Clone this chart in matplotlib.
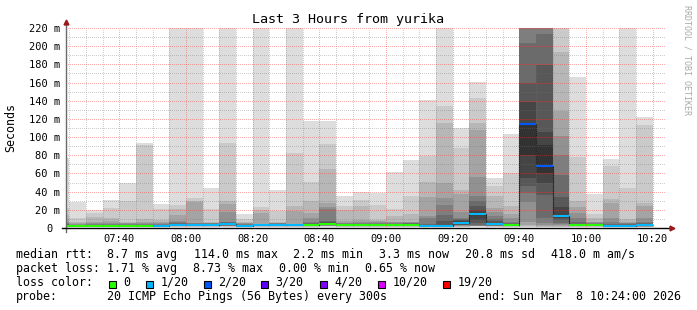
import matplotlib
matplotlib.use("Agg")
import matplotlib.pyplot as plt
from matplotlib.patches import Rectangle
import numpy as np

W, H = 697, 310

# one smokeping step every 5 minutes, start of each step
bar_times = ["07:20", "07:25", "07:30", "07:35", "07:40", "07:45", "07:50", "07:55",
             "08:00", "08:05", "08:10", "08:15", "08:20", "08:25", "08:30", "08:35",
             "08:40", "08:45", "08:50", "08:55", "09:00", "09:05", "09:10", "09:15",
             "09:20", "09:25", "09:30", "09:35", "09:40", "09:45", "09:50", "09:55",
             "10:00", "10:05", "10:10", "10:15"]

# 20 sorted ping rtts per step (ms)
pings = [
    [1.0, 1.2, 1.4, 1.6, 1.8, 2.0, 2.1, 2.2, 2.4, 2.5, 2.7, 3.0, 3.4, 4.0, 5.0, 7.0, 10.0, 14.0, 22.0, 77.0],
    [1.0, 1.2, 1.4, 1.6, 1.8, 2.0, 2.1, 2.2, 2.3, 2.4, 2.6, 2.8, 3.0, 3.3, 3.8, 4.5, 5.5, 6.6, 10.6, 29.0],
    [1.0, 1.2, 1.4, 1.6, 1.8, 2.0, 2.1, 2.2, 2.3, 2.4, 2.6, 2.8, 3.0, 3.4, 4.0, 5.0, 7.0, 11.7, 16.0, 20.0],
    [1.0, 1.2, 1.4, 1.6, 1.8, 2.0, 2.1, 2.2, 2.3, 2.4, 2.6, 2.8, 3.0, 3.4, 4.0, 5.5, 7.8, 11.0, 22.4, 30.8],
    [1.0, 1.2, 1.4, 1.6, 1.8, 2.0, 2.1, 2.2, 2.3, 2.4, 2.6, 2.8, 3.0, 3.4, 4.0, 5.0, 6.0, 7.0, 30.0, 49.0],
    [1.0, 1.2, 1.4, 1.6, 1.8, 2.0, 2.1, 2.2, 2.3, 2.4, 2.6, 2.8, 3.0, 3.4, 4.0, 5.0, 7.0, 10.0, 91.0, 94.0],
    [1.0, 1.2, 1.4, 1.6, 1.8, 2.0, 2.1, 2.2, 2.3, 2.4, 2.6, 2.8, 3.0, 3.4, 4.0, 5.0, 6.5, 8.5, 20.5, 26.5],
    [1.2, 1.5, 1.8, 2.0, 2.2, 2.4, 2.6, 2.8, 3.0, 3.3, 3.6, 4.0, 4.5, 5.5, 6.5, 7.7, 14.3, 20.5, 25.4, 260.0],
    [1.2, 1.5, 1.8, 2.0, 2.2, 2.4, 2.6, 2.8, 3.0, 3.3, 3.6, 4.0, 4.4, 4.8, 5.0, 5.5, 29.0, 29.3, 33.0, 250.0],
    [1.2, 1.5, 1.8, 2.0, 2.2, 2.4, 2.6, 2.8, 3.0, 3.2, 3.4, 3.7, 4.0, 4.5, 5.0, 5.5, 6.0, 7.0, 20.5, 44.0],
    [1.2, 1.5, 1.8, 2.0, 2.2, 2.5, 2.8, 3.2, 3.6, 4.0, 4.4, 4.8, 5.5, 6.2, 7.0, 18.0, 26.3, 29.3, 93.5, 280.0],
    [1.0, 1.2, 1.4, 1.5, 1.6, 1.7, 1.8, 1.9, 2.0, 2.1, 2.3, 2.5, 2.8, 3.2, 4.0, 5.0, 6.0, 7.0, 10.0, 15.0],
    [1.2, 1.5, 1.8, 2.0, 2.2, 2.4, 2.6, 2.8, 3.0, 3.1, 3.3, 3.5, 3.7, 3.9, 4.2, 4.5, 16.5, 20.0, 23.0, 270.0],
    [1.2, 1.5, 1.8, 2.0, 2.2, 2.4, 2.6, 2.8, 3.0, 3.1, 3.3, 3.6, 4.0, 4.5, 5.0, 5.5, 6.0, 7.0, 19.0, 42.0],
    [1.2, 1.5, 1.8, 2.0, 2.2, 2.4, 2.6, 2.8, 3.0, 3.1, 3.3, 3.5, 3.7, 3.9, 4.2, 4.5, 19.0, 24.0, 83.0, 300.0],
    [1.2, 1.5, 1.8, 2.0, 2.2, 2.4, 2.6, 2.8, 3.0, 3.1, 3.3, 3.6, 4.0, 5.0, 7.0, 10.6, 16.5, 30.0, 51.0, 117.5],
    [1.5, 1.8, 2.1, 2.4, 2.7, 3.0, 3.3, 3.6, 4.0, 4.4, 4.8, 5.5, 6.5, 7.7, 21.0, 22.7, 28.0, 65.0, 92.5, 117.5],
    [1.2, 1.5, 1.8, 2.0, 2.2, 2.4, 2.6, 2.8, 3.0, 3.1, 3.3, 3.6, 4.0, 4.5, 5.0, 6.0, 8.0, 20.0, 24.0, 35.0],
    [1.2, 1.5, 1.8, 2.0, 2.2, 2.4, 2.6, 2.8, 3.0, 3.1, 3.3, 3.6, 4.0, 4.5, 5.5, 6.5, 8.4, 24.0, 31.0, 40.0],
    [1.2, 1.5, 1.8, 2.0, 2.2, 2.4, 2.6, 2.8, 3.0, 3.1, 3.3, 3.6, 4.0, 4.5, 5.5, 6.5, 7.5, 8.4, 25.4, 38.8],
    [1.2, 1.5, 1.8, 2.0, 2.2, 2.4, 2.6, 2.8, 3.0, 3.1, 3.3, 3.6, 4.0, 4.5, 5.5, 6.2, 7.0, 13.0, 20.5, 62.0],
    [1.2, 1.5, 1.8, 2.0, 2.2, 2.5, 2.8, 3.1, 3.4, 3.6, 3.9, 4.2, 4.6, 5.0, 5.7, 6.3, 7.0, 15.0, 35.0, 75.0],
    [1.0, 1.2, 1.4, 1.6, 1.8, 2.0, 2.2, 2.3, 2.4, 2.5, 2.7, 3.0, 3.5, 4.5, 10.6, 13.0, 34.5, 51.0, 79.5, 141.0],
    [1.0, 1.2, 1.4, 1.6, 1.8, 2.0, 2.2, 2.3, 2.4, 2.5, 2.8, 3.5, 7.7, 14.3, 25.4, 33.4, 50.0, 115.9, 134.6, 320.0],
    [1.0, 1.3, 1.6, 2.0, 2.4, 2.8, 3.2, 3.8, 4.5, 5.5, 6.5, 7.5, 8.5, 9.5, 10.6, 18.0, 37.0, 42.0, 88.0, 110.0],
    [1.5, 1.7, 1.9, 2.1, 2.3, 2.5, 3.0, 5.0, 9.0, 15.0, 16.0, 20.0, 23.7, 30.0, 35.0, 56.0, 108.0, 116.0, 142.5, 161.0],
    [1.2, 1.5, 1.8, 2.1, 2.4, 2.7, 3.0, 3.5, 4.0, 4.4, 4.8, 6.0, 8.0, 10.0, 13.0, 18.0, 22.0, 35.0, 46.2, 54.7],
    [1.2, 1.5, 1.8, 2.0, 2.2, 2.4, 2.6, 2.8, 3.0, 3.1, 3.3, 3.6, 4.0, 5.0, 7.0, 11.0, 15.0, 23.7, 61.0, 103.8],
    [1.0, 1.5, 2.0, 3.0, 7.0, 29.0, 38.0, 46.0, 55.0, 80.0, 114.5, 138.6, 159.5, 203.0, 240.0, 260.0, 290.0, 330.0, 380.0, 450.0],
    [1.0, 1.2, 1.5, 2.0, 3.0, 5.5, 11.0, 36.7, 49.5, 60.5, 91.7, 106.0, 179.0, 213.0, 240.0, 260.0, 300.0, 350.0, 400.0, 500.0],
    [1.0, 1.2, 1.5, 2.0, 3.0, 4.0, 6.0, 9.0, 11.5, 12.5, 13.5, 23.3, 34.3, 58.0, 80.4, 101.3, 128.8, 194.0, 230.0, 270.0],
    [1.2, 1.5, 1.8, 2.0, 2.2, 2.4, 2.6, 2.8, 3.0, 3.1, 3.3, 3.7, 4.5, 7.0, 10.6, 16.5, 22.7, 29.7, 77.7, 166.5],
    [1.2, 1.5, 1.8, 2.0, 2.2, 2.4, 2.6, 2.8, 3.0, 3.1, 3.3, 3.6, 4.0, 4.6, 5.3, 6.2, 7.0, 10.6, 15.8, 37.0],
    [1.0, 1.2, 1.4, 1.6, 1.8, 2.0, 2.1, 2.2, 2.3, 2.4, 2.6, 2.9, 3.5, 4.5, 6.6, 10.6, 27.3, 31.8, 68.4, 76.0],
    [1.0, 1.2, 1.4, 1.6, 1.8, 2.0, 2.1, 2.2, 2.3, 2.4, 2.6, 2.9, 3.3, 4.0, 5.0, 6.0, 7.0, 10.0, 44.0, 290.0],
    [1.0, 1.2, 1.4, 1.6, 1.8, 2.0, 2.2, 2.5, 2.8, 3.2, 3.4, 3.8, 4.5, 5.5, 7.0, 11.0, 23.7, 28.0, 113.0, 122.0],
]

median_rtt = [2.5, 2.4, 2.4, 2.5, 2.5, 2.5, 2.6, 3.4, 3.5, 3.2, 4.0, 2.2,
              3.1, 3.1, 3.1, 3.1, 4.5, 3.1, 3.1, 3.1, 3.1, 3.6, 2.5, 2.5,
              6.0, 15.5, 4.5, 3.1, 114.0, 67.7, 12.8, 3.1, 3.1, 2.4, 2.4, 3.3]

# lost pings out of 20
loss = [0, 0, 0, 0, 0, 0, 1, 1, 1, 1, 1, 1,
        1, 1, 1, 0, 0, 0, 0, 0, 0, 0, 1, 1,
        1, 1, 1, 0, 2, 2, 1, 0, 0, 1, 1, 1]

loss_levels = [0, 1, 2, 3, 4, 10, 19]
loss_names = ["0", "1/20", "2/20", "3/20", "4/20", "10/20", "19/20"]
loss_hex = ["#26ff00", "#00b8ff", "#0059ff", "#5e00ff", "#7e00ff", "#dd00ff", "#ff0000"]

tick_times = ["07:40", "08:00", "08:20", "08:40", "09:00", "09:20", "09:40", "10:00", "10:20"]
y_ticks = [0, 20, 40, 60, 80, 100, 120, 140, 160, 180, 200, 220]

rtt_stats = ["8.7 ms avg", "114.0 ms max", "2.2 ms min", "3.3 ms now", "20.8 ms sd", "418.0 m am/s"]
loss_stats = ["1.71 % avg", "8.73 % max", "0.00 % min", "0.65 % now"]
probe_text = "20 ICMP Echo Pings (56 Bytes) every 300s"
end_text = "end: Sun Mar  8 10:24:00 2026"


def minutes(t):
    h, m = t.split(":")
    return int(h) * 60 + int(m)


def loss_color(n):
    for lv, c in zip(loss_levels, loss_hex):
        if n <= lv:
            return c
    return loss_hex[-1]


plt.rcParams['font.family'] = ['DejaVu Sans Mono']

fig = plt.figure(figsize=(W / 100, H / 100), dpi=100)
ax = fig.add_axes([66 / W, (H - 228) / H, 600 / W, 200 / H])

x0 = np.array([minutes(t) for t in bar_times])
P = np.array(pings)
step = 5

# smoke: band k spans ping k .. ping 21-k, darker towards the median
for j in range(19):
    k = min(j + 1, 19 - j)
    g = (19 * (10 - k) + 50) / 255
    ax.bar(x0, P[:, j + 1] - P[:, j], bottom=P[:, j], width=step, align='edge',
           color=(g, g, g), linewidth=0, antialiased=False, zorder=1)

med = np.array(median_rtt)
ax.stairs(med, np.append(x0, x0[-1] + step), color='#202020', lw=0.8,
          baseline=None, zorder=1.5)
ax.bar(x0, 2.2, bottom=med - 1.1, width=step, align='edge',
       color=[loss_color(n) for n in loss], linewidth=0, antialiased=False, zorder=2)

ax.set_xlim(minutes("07:24"), minutes("10:24"))
ax.set_ylim(0, 220)

ax.set_xticks([minutes(t) for t in tick_times])
ax.set_xticklabels(tick_times)
ax.set_xticks(np.arange(minutes("07:25"), minutes("10:24"), 5), minor=True)
ax.set_yticks(y_ticks)
ax.set_yticklabels(["0 "] + ["%d m" % v for v in y_ticks[1:]])
ax.set_yticks(np.arange(10, 220, 20), minor=True)

# dotted grid, 1px on / 1px off, on top of the smoke
dots = (0.5, (1, 1))
ax.set_axisbelow(False)
ax.grid(which='major', color=(1.0, 0.2, 0.2), alpha=0.4, linestyle=dots, linewidth=0.72)
ax.grid(which='minor', color=(0.45, 0.45, 0.45), alpha=0.35, linestyle=dots, linewidth=0.72)
ax.tick_params(which='both', length=0, labelsize=7.5)
ax.tick_params(axis='y', pad=4.4)
ax.tick_params(axis='x', pad=4.6)

for s in ax.spines.values():
    s.set_visible(False)

# axes with arrows
ax.plot([0, 0], [-0.02, 1.02], transform=ax.transAxes, color='#6a6a6a', lw=1,
        clip_on=False, zorder=5)
ax.plot([-0.006, 1.008], [0, 0], transform=ax.transAxes, color='black', lw=1,
        clip_on=False, zorder=5)
ax.plot(0, 1.03, marker='^', color='#9a1a1a', ms=3.5, transform=ax.transAxes,
        clip_on=False, zorder=6)
ax.plot(1.01, 0, marker='>', color='#9a1a1a', ms=3.5, transform=ax.transAxes,
        clip_on=False, zorder=6)

fig.text(0.5, 1 - 19.5 / H, "Last 3 Hours from yurika", ha='center', va='center', size=9.6)
fig.text(11 / W, 1 - 128 / H, "Seconds", rotation=90, ha='center', va='center', size=8.4)
fig.text(687 / W, 1 - 60 / H, "RRDTOOL / TOBI OETIKER", rotation=270, ha='center',
         va='center', size=6, color='#a8a8a8')

# legend rows
def row(x, y, s):
    fig.text(x / W, 1 - y / H, s, ha='left', va='center', size=8.4)

row(16, 254.3, "median rtt:")
for x, s in zip([107.3, 194, 293.3, 379.3, 465.3, 551], rtt_stats):
    row(x, 254.3, s)

row(16, 268.3, "packet loss:")
for x, s in zip([107.3, 193.3, 279.3, 365.3], loss_stats):
    row(x, 268.3, s)

row(16, 282.3, "loss color:")
box_x = [109, 146, 203.5, 261, 319.5, 378, 443]
for bx, name, c in zip(box_x, loss_names, loss_hex):
    fig.add_artist(Rectangle((bx / W, 1 - 288 / H), 7 / W, 7 / H, transform=fig.transFigure,
                             facecolor=c, edgecolor='black', lw=0.8))
    row(bx + 14.5, 282.3, name)

row(16, 296.7, "probe:")
row(107.3, 296.7, probe_text)
row(478, 296.7, end_text)

fig.savefig("out.png", dpi=100)
